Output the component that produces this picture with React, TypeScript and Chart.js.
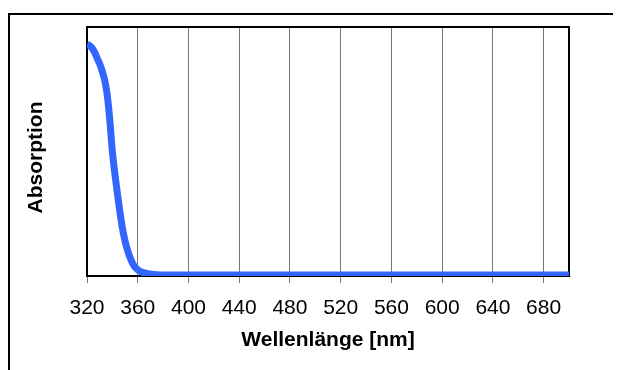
import React, { useEffect, useRef } from 'react';
import { Chart, registerables } from 'chart.js';

Chart.register(...registerables);

const wavelengths = [
  320, 322, 324, 326, 328, 330, 332, 334, 336, 338, 340, 342, 344, 346, 348, 350,
  352, 354, 356, 358, 360, 363, 367, 372, 378, 400, 450, 500, 550, 600, 650, 700,
];
const absorption = [
  0.93, 0.925, 0.915, 0.898, 0.875, 0.852, 0.822, 0.785, 0.725, 0.625, 0.5, 0.41, 0.33, 0.255, 0.19, 0.14,
  0.102, 0.073, 0.05, 0.035, 0.025, 0.016, 0.01, 0.006, 0.004, 0.004, 0.004, 0.004, 0.004, 0.004, 0.004, 0.004,
];
const xMin = 320;
const xMax = 700;
const xStep = 40;
const xTitle = 'Wellenlänge [nm]';
const yTitle = 'Absorption';

const FONT = '"Liberation Sans", Arial, Helvetica, sans-serif';

const plotBox = {
  id: 'plotBox',
  beforeDatasetsDraw(chart: any) {
    const { ctx, chartArea } = chart;
    ctx.save();
    ctx.strokeStyle = '#000';
    ctx.lineWidth = 2;
    ctx.strokeRect(chartArea.left, chartArea.top, chartArea.right - chartArea.left, chartArea.bottom - chartArea.top);
    ctx.restore();
  },
};

const yTitlePlugin = {
  id: 'yTitlePlugin',
  afterDraw(chart: any) {
    const { ctx, chartArea } = chart;
    ctx.save();
    ctx.translate(28, (chartArea.top + chartArea.bottom) / 2 + 6);
    ctx.rotate(-Math.PI / 2);
    ctx.textAlign = 'center';
    ctx.textBaseline = 'middle';
    ctx.fillStyle = '#000';
    ctx.font = 'bold 21px ' + FONT;
    ctx.fillText(yTitle, 0, 0);
    ctx.restore();
  },
};

export default function App() {
  const canvasRef = useRef<HTMLCanvasElement | null>(null);

  useEffect(() => {
    document.documentElement.style.overflow = 'hidden';
    document.body.style.overflow = 'hidden';
    const canvas = canvasRef.current;
    if (!canvas) return;
    const points = wavelengths.map((x, i) => ({ x, y: absorption[i] }));
    const chart = new Chart(canvas, {
      type: 'line',
      data: {
        datasets: [
          {
            data: points,
            borderColor: '#3366ff',
            borderWidth: 7,
            pointRadius: 0,
            cubicInterpolationMode: 'monotone',
            fill: false,
          },
        ],
      },
      options: {
        animation: false,
        responsive: true,
        maintainAspectRatio: false,
        layout: { padding: { left: 0, top: 19, right: 52, bottom: 0 } },
        plugins: { legend: { display: false }, tooltip: { enabled: false }, title: { display: false } },
        scales: {
          x: {
            type: 'linear',
            min: xMin,
            max: xMax,
            afterFit(scale: any) {
              scale.height = 86;
            },
            ticks: {
              stepSize: xStep,
              includeBounds: false,
              color: '#000',
              padding: 13,
              maxRotation: 0,
              autoSkip: false,
              font: { family: FONT, size: 21 },
              callback: (v: any) => String(v),
            },
            grid: { color: '#777', lineWidth: 1, drawTicks: true, tickLength: 7, tickColor: '#777' },
            border: { display: false },
            title: {
              display: true,
              text: xTitle,
              color: '#000',
              font: { family: FONT, size: 21, weight: 'bold' },
              padding: { top: 0, bottom: 9 },
            },
          },
          y: {
            type: 'linear',
            min: 0,
            max: 1,
            afterFit(scale: any) {
              scale.width = 79;
            },
            ticks: { display: false },
            grid: { display: false },
            border: { display: false },
          },
        },
      },
      plugins: [plotBox, yTitlePlugin],
    } as any);
    return () => chart.destroy();
  }, []);

  return (
    <div style={{ position: 'relative', width: 613, height: 362, overflow: 'hidden' }}>
      <div
        style={{
          position: 'absolute',
          left: 0,
          top: 5,
          width: 700,
          height: 500,
          border: '2px solid #000',
          boxSizing: 'border-box',
        }}
      />
      <div style={{ position: 'absolute', left: 0, top: 0, width: 613, height: 354 }}>
        <canvas ref={canvasRef} />
      </div>
    </div>
  );
}
